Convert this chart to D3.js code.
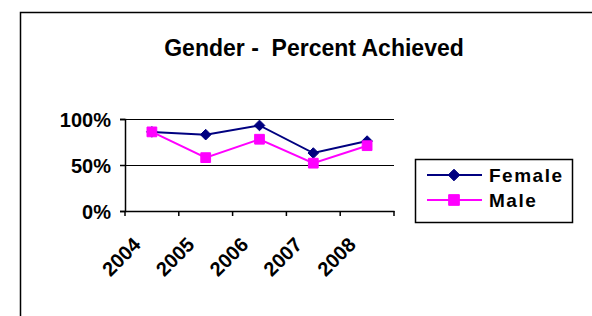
<!DOCTYPE html>
<html>
<head>
<meta charset="utf-8">
<script src="https://cdn.jsdelivr.net/npm/d3@7/dist/d3.min.js"></script>
<style>
body { margin: 0; background: #fff; }
text { font-family: "Liberation Sans", Arial, sans-serif; font-weight: bold; white-space: pre; }
</style>
</head>
<body>
<div id="chart"></div>
<script>
const years = ["2004", "2005", "2006", "2007", "2008"];
const female = [0.86, 0.83, 0.93, 0.63, 0.76];
const male = [0.86, 0.58, 0.78, 0.52, 0.71];
const yTicks = [0, 0.5, 1];

const width = 592, height = 316;
const plot = { left: 125, right: 394, top: 119, bottom: 211 };

const svg = d3.select("#chart")
  .append("svg")
  .attr("width", width)
  .attr("height", height);

// outer frame (only top and left visible)
svg.append("path")
  .attr("d", `M20.5,${height} V12.5 H${width}`)
  .attr("fill", "none")
  .attr("stroke", "#000")
  .attr("stroke-width", 1.5);

svg.append("text")
  .attr("x", 314)
  .attr("y", 56)
  .attr("text-anchor", "middle")
  .attr("font-size", 23)
  .text("Gender -  Percent Achieved");

const x = d3.scaleBand()
  .domain(years)
  .range([plot.left, plot.right]);

const y = d3.scaleLinear()
  .domain([0, 1])
  .range([plot.bottom, plot.top]);

// gridlines
svg.append("g")
  .selectAll("line")
  .data(yTicks.filter(d => d > 0))
  .enter()
  .append("line")
  .attr("x1", plot.left)
  .attr("x2", plot.right)
  .attr("y1", d => Math.round(y(d)) + 0.5)
  .attr("y2", d => Math.round(y(d)) + 0.5)
  .attr("stroke", "#000")
  .attr("stroke-width", 1.2);

// y axis
const yAxis = svg.append("g")
  .attr("transform", `translate(${plot.left},0)`)
  .call(d3.axisLeft(y).tickValues(yTicks).tickFormat(d3.format(".0%")).tickSize(5).tickPadding(9));
yAxis.selectAll("text").attr("font-size", 20).attr("fill", "#000").attr("font-family", null).attr("dy", "0.36em");
yAxis.selectAll("line, path").attr("stroke", "#000").attr("stroke-width", 1.5);

// x axis
const xAxis = svg.append("g")
  .attr("transform", `translate(0,${plot.bottom})`)
  .call(d3.axisBottom(x).tickSize(0).tickSizeOuter(0));
xAxis.select(".domain").attr("stroke", "#000").attr("stroke-width", 1.5);
xAxis.selectAll("text")
  .attr("font-size", 20)
  .attr("fill", "#000")
  .attr("font-family", null)
  .attr("text-anchor", "end")
  .attr("dy", null)
  .attr("y", 0)
  .attr("transform", "translate(-10,35) rotate(-45)");

// category boundary ticks
xAxis.selectAll("line.bound")
  .data(years.concat(["end"]))
  .enter()
  .append("line")
  .attr("class", "bound")
  .attr("x1", (d, i) => i < years.length ? x(d) : plot.right)
  .attr("x2", (d, i) => i < years.length ? x(d) : plot.right)
  .attr("y1", 0)
  .attr("y2", 5)
  .attr("stroke", "#000")
  .attr("stroke-width", 1.5);

const cx = d => x(d) + x.bandwidth() / 2;

const series = [
  { name: "Female", values: female, color: "#000080", symbol: d3.symbolDiamond2, size: 72 },
  { name: "Male", values: male, color: "#ff00ff", symbol: d3.symbolSquare2, size: 121 }
];

const line = d3.line()
  .x((d, i) => cx(years[i]))
  .y(d => y(d));

series.forEach(s => {
  svg.append("path")
    .datum(s.values)
    .attr("fill", "none")
    .attr("stroke", s.color)
    .attr("stroke-width", 2)
    .attr("d", line);
  svg.append("g")
    .selectAll("path")
    .data(s.values)
    .enter()
    .append("path")
    .attr("transform", (d, i) => `translate(${cx(years[i])},${y(d)})`)
    .attr("d", d3.symbol().type(s.symbol).size(s.size))
    .attr("fill", s.color)
    .attr("stroke", s.color);
});

// legend
const legend = svg.append("g");
legend.append("rect")
  .attr("x", 415.5)
  .attr("y", 159.5)
  .attr("width", 157)
  .attr("height", 63)
  .attr("fill", "#fff")
  .attr("stroke", "#000")
  .attr("stroke-width", 1.5);

series.forEach((s, i) => {
  const ly = 175 + i * 25;
  legend.append("line")
    .attr("x1", 427).attr("x2", 482)
    .attr("y1", ly).attr("y2", ly)
    .attr("stroke", s.color)
    .attr("stroke-width", 2);
  legend.append("path")
    .attr("transform", `translate(454,${ly})`)
    .attr("d", d3.symbol().type(s.symbol).size(s.size * 1.2))
    .attr("fill", s.color)
    .attr("stroke", s.color);
  legend.append("text")
    .attr("x", 489)
    .attr("y", ly + 6.5)
    .attr("font-size", 19)
    .attr("letter-spacing", 1.5)
    .text(s.name);
});
</script>
</body>
</html>
